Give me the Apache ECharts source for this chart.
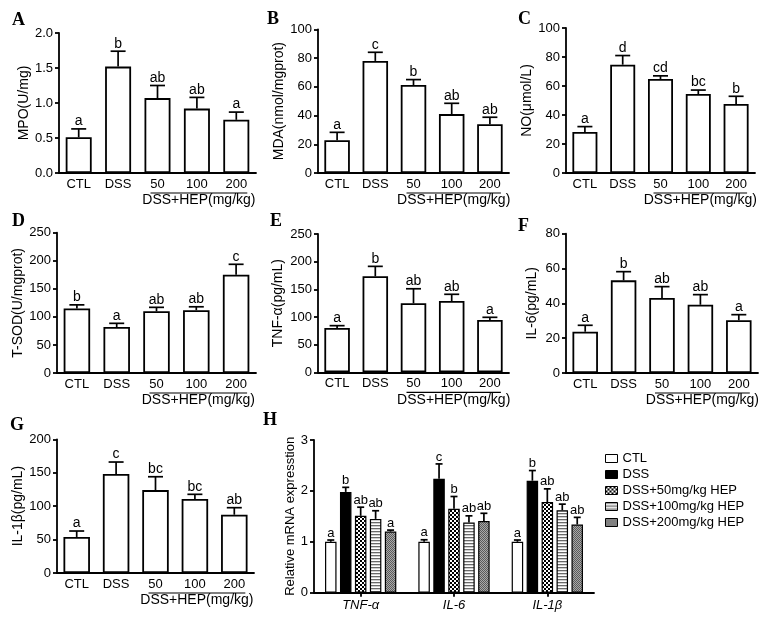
<!DOCTYPE html>
<html><head><meta charset="utf-8">
<script src="https://cdn.jsdelivr.net/npm/echarts@6/dist/echarts.min.js"></script>
<style>html,body{margin:0;padding:0;background:#fff}#c{width:770px;height:620px}</style>
</head><body><div id="c"></div>
<script>
// ---------- data ----------
const groups = ['CTL','DSS','50','100','200'];
const doseLabel = 'DSS+HEP(mg/kg)';

const mpoMean = [0.51,1.52,1.07,0.92,0.76];
const mpoSem  = [0.12,0.22,0.18,0.16,0.11];
const mpoSig  = ['a','b','ab','ab','a'];

const mdaMean = [22.8,78,61.2,41,34];
const mdaSem  = [5.5,6,3.8,7.5,4.8];
const mdaSig  = ['a','c','b','ab','ab'];

const noMean = [28.3,74.7,64.8,54.5,47.6];
const noSem  = [3.7,6.3,2.2,2.7,5.3];
const noSig  = ['a','d','cd','bc','b'];

const sodMean = [115,82,110,112,175];
const sodSem  = [6.4,6.5,7,6,18.7];
const sodSig  = ['b','a','ab','ab','c'];

const tnfMean = [80,173.5,124.7,128.9,94.5];
const tnfSem  = [4.3,18,26.3,12.1,4.9];
const tnfSig  = ['a','b','ab','ab','a'];

const il6Mean = [23.7,53.2,43.1,39.2,30.3];
const il6Sem  = [3.7,5,6.5,5.8,3.2];
const il6Sig  = ['a','b','ab','ab','a'];

const il1Mean = [53.9,148,124,110.7,87.2];
const il1Sem  = [8.9,18,20,7,10.5];
const il1Sig  = ['a','c','bc','bc','ab'];

// panel H
const genes = ['TNF-α','IL-6','IL-1β'];
const hNames = ['CTL','DSS','DSS+50mg/kg HEP','DSS+100mg/kg HEP','DSS+200mg/kg HEP'];
const hCTL  = [1.0,1.0,1.0];   const hCTLSem  = [0.035,0.04,0.035];  const hCTLSig  = ['a','a','a'];
const hDSS  = [1.98,2.24,2.2]; const hDSSSem  = [0.09,0.29,0.2];     const hDSSSig  = ['b','c','b'];
const h50   = [1.51,1.65,1.78];const h50Sem   = [0.17,0.24,0.26];    const h50Sig   = ['ab','b','ab'];
const h100  = [1.45,1.38,1.62];const h100Sem  = [0.16,0.13,0.12];    const h100Sig  = ['ab','ab','ab'];
const h200  = [1.2,1.41,1.34]; const h200Sem  = [0.03,0.15,0.14];    const h200Sig  = ['a','ab','ab'];

// ---------- styling / layout ----------
const FONT = '"Liberation Sans", Arial, sans-serif';
const panels = [
  {key:'A', mean:mpoMean, sem:mpoSem, sig:mpoSig, name:'MPO(U/mg)', max:2, interval:0.5, dec:1,
   grid:{left:59, top:33, width:197, height:140}, gap:28, bw:26, lab:[12,20]},
  {key:'B', mean:mdaMean, sem:mdaSem, sig:mdaSig, name:'MDA(nmol/mgprot)', max:100, interval:20, dec:0,
   grid:{left:318, top:29.3, width:191, height:143.7}, gap:29, bw:25.5, lab:[267,19.5]},
  {key:'C', mean:noMean, sem:noSem, sig:noSig, name:'NO(μmol/L)', max:100, interval:20, dec:0,
   grid:{left:566, top:28, width:189, height:145}, gap:28, bw:25, lab:[518,19]},
  {key:'D', mean:sodMean, sem:sodSem, sig:sodSig, name:'T-SOD(U/mgprot)', max:250, interval:50, dec:0,
   grid:{left:57, top:232.7, width:199, height:140.3}, gap:31, bw:26.5, lab:[12,221.5]},
  {key:'E', mean:tnfMean, sem:tnfSem, sig:tnfSig, name:'TNF-α(pg/mL)', max:250, interval:50, dec:0,
   grid:{left:318, top:234, width:191, height:138.3}, gap:33, bw:25.5, lab:[270,221.5]},
  {key:'F', mean:il6Mean, sem:il6Sem, sig:il6Sig, name:'IL-6(pg/mL)', max:80, interval:20, dec:0,
   grid:{left:566, top:233.7, width:192, height:139.3}, gap:27, bw:25.5, lab:[518,226]},
  {key:'G', mean:il1Mean, sem:il1Sem, sig:il1Sig, name:'IL-1β(pg/mL)', max:200, interval:50, dec:0,
   grid:{left:57, top:439.3, width:197, height:133.7}, gap:31, bw:26.5, lab:[10,425]}
];

function makePattern(w, h, draw){
  const c = document.createElement('canvas'); c.width = w; c.height = h;
  const g = c.getContext('2d'); draw(g); return c;
}
const patChecker = makePattern(4,4,g=>{g.fillStyle='#fff';g.fillRect(0,0,4,4);g.fillStyle='#000';g.fillRect(0,0,2,2);g.fillRect(2,2,2,2);});
const patStripe = makePattern(4,3,g=>{g.fillStyle='#fff';g.fillRect(0,0,4,3);g.fillStyle='#6a6a6a';g.fillRect(0,0,4,1);g.fillStyle='#d0d0d0';g.fillRect(0,1,4,1);});
const patGray = makePattern(2,2,g=>{g.fillStyle='#a8a8a8';g.fillRect(0,0,2,2);g.fillStyle='#5a5a5a';g.fillRect(0,0,1,1);g.fillRect(1,1,1,1);});
const hFills = ['#ffffff','#000000',{image:patChecker,repeat:'repeat'},{image:patStripe,repeat:'repeat'},{image:patGray,repeat:'repeat'}];

const chart = echarts.init(document.getElementById('c'), null, {renderer:'canvas'});

const grids = [], xAxes = [], yAxes = [], series = [];
const axisLineStyle = {color:'#000', width:1.8};

function errSeries(gi, means, sems, sigs, offset, cap, fs){
  return {
    type:'custom', xAxisIndex:gi, yAxisIndex:gi, z:5, silent:true, clip:false,
    data: means.map((m,i)=>[i, m, m + sems[i]]),
    renderItem:(params, api)=>{
      const p0 = api.coord([api.value(0), api.value(1)]);
      const p1 = api.coord([api.value(0), api.value(2)]);
      const x = p0[0] + offset;
      return {type:'group', children:[
        {type:'line', shape:{x1:x,y1:p0[1],x2:x,y2:p1[1]}, style:{stroke:'#000',lineWidth:1.7}},
        {type:'line', shape:{x1:x-cap/2,y1:p1[1],x2:x+cap/2,y2:p1[1]}, style:{stroke:'#000',lineWidth:1.7}},
        {type:'text', x:x, y:p1[1]-0.5, style:{text:sigs[params.dataIndex], align:'center', verticalAlign:'bottom',
          fontSize:fs, fontFamily:FONT, fill:'#000'}}
      ]};
    }
  };
}

panels.forEach((p, gi)=>{
  grids.push(Object.assign({containLabel:false}, p.grid));
  xAxes.push({type:'category', gridIndex:gi, data:groups,
    axisLine:{lineStyle:axisLineStyle}, axisTick:{show:false},
    axisLabel:{color:'#000', fontSize:13, fontFamily:FONT, margin:5, interval:0}});
  yAxes.push({type:'value', gridIndex:gi, min:0, max:p.max, interval:p.interval,
    name:p.name, nameLocation:'middle', nameGap:p.gap, nameRotate:90,
    nameTextStyle:{color:'#000', fontSize:14, fontFamily:FONT},
    axisLine:{show:true, lineStyle:axisLineStyle}, axisTick:{show:true, length:4, lineStyle:axisLineStyle},
    splitLine:{show:false},
    axisLabel:{color:'#000', fontSize:13, fontFamily:FONT, margin:6, formatter:v=>v.toFixed(p.dec)}});
  series.push({type:'bar', xAxisIndex:gi, yAxisIndex:gi, data:p.mean, barWidth:p.bw, silent:true,
    itemStyle:{color:'#fff', borderColor:'#000', borderWidth:1.8}});
  series.push(errSeries(gi, p.mean, p.sem, p.sig, 0, 15, 14));
});

// panel H
const hi = panels.length;
grids.push({left:314, top:440, width:280, height:152.7});
xAxes.push({type:'category', gridIndex:hi, data:genes,
  axisLine:{lineStyle:axisLineStyle}, axisTick:{show:true, alignWithLabel:true, length:4, lineStyle:axisLineStyle},
  axisLabel:{color:'#000', fontSize:13, fontStyle:'italic', fontFamily:FONT, margin:6}});
yAxes.push({type:'value', gridIndex:hi, min:0, max:3, interval:1,
  name:'Relative mRNA expresstion', nameLocation:'middle', nameGap:17, nameRotate:90,
  nameTextStyle:{color:'#000', fontSize:13, fontFamily:FONT},
  axisLine:{show:true, lineStyle:axisLineStyle}, axisTick:{show:true, length:4, lineStyle:axisLineStyle},
  splitLine:{show:false},
  axisLabel:{color:'#000', fontSize:13, fontFamily:FONT, margin:6}});
const hMeans = [hCTL,hDSS,h50,h100,h200];
const hSems = [hCTLSem,hDSSSem,h50Sem,h100Sem,h200Sem];
const hSigs = [hCTLSig,hDSSSig,h50Sig,h100Sig,h200Sig];
const hBW = 11.5, hGap = 0.3;
hMeans.forEach((m,k)=>{
  series.push({type:'bar', name:hNames[k], xAxisIndex:hi, yAxisIndex:hi, data:m, barWidth:hBW, barGap:(hGap*100)+'%',
    silent:true, itemStyle:{color:hFills[k], borderColor:'#000', borderWidth:1.2}});
});
hMeans.forEach((m,k)=>{
  series.push(errSeries(hi, m, hSems[k], hSigs[k], (k-2)*hBW*(1+hGap), 7, 13));
});

chart.setOption({
  animation:false,
  backgroundColor:'#fff',
  grid:grids, xAxis:xAxes, yAxis:yAxes, series:series,
  legend:{data:hNames, orient:'vertical', left:600, top:447, itemWidth:12, itemHeight:8, itemGap:3,
    icon:'rect', itemStyle:{borderColor:'#000', borderWidth:1},
    textStyle:{color:'#000', fontSize:13, fontFamily:FONT}, selectedMode:false}
});

// annotations: panel letters, dose underline and dose label
const graphics = [];
panels.forEach((p, gi)=>{
  const c2 = chart.convertToPixel({gridIndex:gi}, [2, 0]);
  const c4 = chart.convertToPixel({gridIndex:gi}, [4, 0]);
  const ay = c2[1];
  const x1 = c2[0] - 7, x2 = c4[0] + 11;
  graphics.push({type:'line', shape:{x1:x1, y1:ay+20, x2:x2, y2:ay+20}, style:{stroke:'#000', lineWidth:1.2}, silent:true});
  graphics.push({type:'text', x:(x1+x2)/2, y:ay+20.5, style:{text:doseLabel, align:'center', verticalAlign:'top',
    fontSize:14, fontFamily:FONT, fill:'#000'}, silent:true});
  graphics.push({type:'text', x:p.lab[0], y:p.lab[1], style:{text:p.key, align:'left', verticalAlign:'middle',
    fontSize:18, fontWeight:'bold', fontFamily:'"Liberation Serif", "Times New Roman", serif', fill:'#000'}, silent:true});
});
graphics.push({type:'text', x:263, y:420.5, style:{text:'H', align:'left', verticalAlign:'middle',
  fontSize:18, fontWeight:'bold', fontFamily:'"Liberation Serif", "Times New Roman", serif', fill:'#000'}, silent:true});
chart.setOption({graphic:graphics});
</script>
</body></html>
